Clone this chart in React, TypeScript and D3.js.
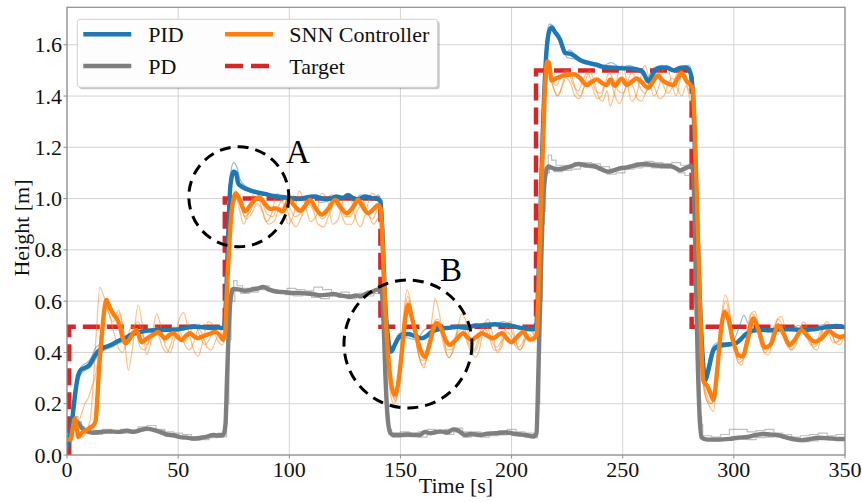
import React from "react";
import * as d3 from "d3";

type Pt = [number, number];

// Target height set-point (step profile)
const targetPts: Pt[] = [
  [0, 0], [1, 0], [1, 0.5], [71, 0.5], [71, 1.0], [141, 1.0], [141, 0.5],
  [211, 0.5], [211, 1.5], [281, 1.5], [281, 0.5], [350, 0.5],
];

// PID: mean trajectory
const pidMean: Pt[] = [
  [0,0.03],[1,0.06],[2.5,0.15],[4,0.26],[5,0.31],[6,0.33],[8,0.34],[10,0.35],[12,0.38],[14,0.405],[17,0.42],[20,0.43],[23,0.445],[26,0.455],[29,0.47],[32,0.478],[36,0.485],[40,0.487],[45,0.488],[50,0.49],[53,0.495],[57,0.5],[61,0.498],[65,0.495],[68,0.497],[70.5,0.495],
  [71.5,0.6],[72.5,0.85],[73.5,1.05],[75,1.105],[76,1.1],[77,1.06],[78.5,1.047],[81,1.036],[85,1.025],[89,1.018],[93,1.01],[97,1.006],[101,1.0],[104,0.998],[108,1.005],[111.5,1.008],[115,1.0],[118,0.998],[121,1.008],[124,1.003],[126.5,1.013],[129,1.0],[131,0.997],[134,1.008],[137,1.003],[140,0.997],[141,0.99],
  [142,0.85],[143,0.62],[144.5,0.45],[145.8,0.403],[147.5,0.43],[149,0.455],[151,0.47],[153.5,0.472],[156,0.465],[159.5,0.455],[162,0.465],[164,0.48],[168.5,0.493],[172,0.496],[176,0.5],[180,0.495],[183.5,0.505],[188,0.506],[192.5,0.51],[196,0.507],[199,0.505],[202,0.5],[204.5,0.495],[209.8,0.49],
  [211,0.5],[212.5,0.8],[214,1.25],[215.5,1.55],[217,1.655],[218,1.667],[219.5,1.65],[221.8,1.62],[223,1.59],[224,1.568],[226.3,1.565],[228,1.558],[230.8,1.54],[234,1.53],[238.3,1.522],[242,1.512],[245.8,1.51],[250,1.508],[253.3,1.508],[256,1.505],[259,1.495],[261.5,1.456],[263,1.475],[264.5,1.5],[267,1.51],[270,1.51],[273,1.5],[276,1.51],[278.8,1.51],[280.5,1.49],
  [281.5,1.42],[283,1.05],[284.5,0.65],[286,0.38],[287,0.29],[288.5,0.33],[290.8,0.41],[293,0.425],[295.3,0.43],[298,0.432],[301.3,0.438],[303.5,0.455],[305.5,0.472],[308.8,0.485],[312,0.488],[316,0.486],[320.7,0.49],[325,0.49],[330,0.488],[335.7,0.49],[339,0.495],[343,0.5],[346,0.503],[350,0.498],
];

// PID: individual runs
const pidRunA: Pt[] = [
  [0,0.03],[2,0.12],[3.5,0.24],[5,0.32],[7,0.35],[9,0.36],[11,0.38],[13,0.42],[15,0.43],[18,0.425],[21,0.44],[25,0.455],[28,0.47],[31,0.48],[35,0.49],[39,0.485],[43,0.49],[47,0.495],[51,0.49],[55,0.505],[59,0.51],[62,0.5],[66,0.505],[70,0.5],
  [71.3,0.65],[72.3,0.9],[73.3,1.08],[75,1.14],[76.5,1.12],[78,1.07],[82,1.04],[86,1.03],[90,1.015],[94,1.01],[98,1.005],[102,1.01],[106,0.995],[110,1.015],[114,0.985],[117,0.99],[120,1.01],[123,1.0],[126,1.02],[130,0.995],[134,1.01],[137,0.995],[140,1.015],[141,1.0],
  [142,0.8],[143.5,0.55],[145,0.42],[147,0.43],[149,0.47],[152,0.48],[155,0.47],[158,0.46],[161,0.49],[164,0.495],[168,0.5],[172,0.49],[176,0.505],[180,0.51],[184,0.5],[188,0.515],[192,0.505],[196,0.52],[200,0.51],[204,0.5],[208,0.505],[210.5,0.5],
  [212,0.75],[213.5,1.2],[215,1.55],[217,1.68],[218.5,1.675],[220,1.65],[222,1.61],[224,1.56],[226,1.58],[229,1.555],[233,1.54],[237,1.53],[241,1.52],[245,1.53],[249,1.51],[253,1.52],[257,1.5],[261,1.47],[264,1.51],[268,1.52],[272,1.505],[276,1.515],[280,1.52],
  [281.5,1.45],[283,1.1],[284.5,0.7],[286,0.4],[287.5,0.33],[289,0.38],[291,0.43],[294,0.44],[297,0.435],[300,0.45],[302.5,0.5],[304.5,0.545],[306.5,0.51],[309,0.49],[313,0.495],[317,0.48],[321,0.5],[325,0.49],[329,0.505],[333,0.485],[337,0.5],[341,0.51],[345,0.5],[350,0.505],
];
const pidRunB: Pt[] = [
  [0,0.03],[1.5,0.08],[3,0.18],[4.5,0.27],[6,0.31],[8,0.33],[10,0.34],[12,0.36],[14,0.39],[17,0.41],[20,0.42],[24,0.44],[28,0.46],[32,0.47],[36,0.48],[40,0.49],[44,0.485],[48,0.49],[52,0.5],[56,0.495],[60,0.5],[64,0.49],[68,0.495],[70.5,0.49],
  [71.8,0.7],[72.8,0.95],[74,1.08],[75.5,1.1],[77,1.06],[80,1.035],[84,1.025],[88,1.02],[92,1.005],[96,1.0],[100,0.995],[104,1.0],[108,1.01],[112,1.0],[116,0.995],[119,1.015],[122,1.0],[126,1.005],[129,0.99],[132,1.015],[136,1.0],[140,0.995],[141.3,0.97],
  [142.3,0.8],[143.5,0.58],[145,0.42],[146.5,0.4],[148.5,0.44],[151,0.46],[154,0.455],[157,0.45],[160,0.46],[163,0.47],[166,0.49],[170,0.495],[174,0.5],[178,0.495],[182,0.51],[186,0.505],[190,0.515],[194,0.5],[198,0.51],[202,0.5],[206,0.49],[210,0.485],
  [211.5,0.6],[213,1.0],[214.5,1.4],[216,1.62],[217.5,1.665],[219,1.655],[221,1.63],[223,1.6],[225,1.55],[228,1.545],[232,1.535],[236,1.52],[240,1.51],[244,1.52],[248,1.505],[252,1.51],[256,1.5],[260,1.48],[262,1.46],[265,1.5],[269,1.505],[273,1.495],[277,1.51],[280.5,1.5],
  [282,1.3],[283.5,0.9],[285,0.52],[286.5,0.31],[288,0.3],[290,0.37],[292,0.41],[295,0.42],[298,0.425],[301,0.43],[304,0.46],[307,0.48],[311,0.485],[315,0.49],[319,0.485],[323,0.495],[327,0.5],[331,0.49],[335,0.495],[339,0.49],[343,0.505],[347,0.5],[350,0.495],
];

// PD: mean trajectory
const pdMean: Pt[] = [
  [0,0.05],[1,0.07],[2.5,0.12],[3.6,0.135],[5,0.125],[7.3,0.1],[9,0.092],[11.8,0.087],[15,0.09],[19,0.092],[23,0.09],[27,0.095],[30,0.09],[33,0.097],[36,0.103],[38,0.1],[41.8,0.09],[44.8,0.08],[47.8,0.077],[51,0.07],[54,0.068],[57,0.064],[60,0.067],[63,0.072],[65.8,0.078],[68,0.076],[70.3,0.078],
  [71.3,0.12],[72,0.3],[72.8,0.5],[73.5,0.6],[74.8,0.648],[77.8,0.645],[80,0.64],[83,0.645],[86,0.65],[88.3,0.655],[91,0.645],[94.3,0.637],[98,0.635],[101,0.632],[104.8,0.632],[108,0.63],[111,0.627],[113.8,0.623],[117,0.625],[120,0.628],[123,0.622],[127.3,0.617],[130,0.622],[132,0.618],[134.8,0.63],[137,0.635],[139.5,0.645],[141.5,0.64],
  [142.5,0.5],[143.2,0.32],[144.2,0.15],[145.3,0.09],[146.8,0.078],[150,0.078],[153,0.08],[156,0.078],[158.8,0.078],[161,0.09],[163.3,0.085],[166,0.09],[168,0.092],[171,0.088],[173.8,0.1],[176,0.095],[179,0.078],[182,0.082],[185.8,0.078],[189,0.083],[193,0.085],[197.8,0.088],[201,0.083],[204,0.08],[206,0.078],[209.8,0.072],
  [211.2,0.085],[212,0.3],[213,0.65],[214,0.95],[215.2,1.09],[216.5,1.125],[218.8,1.118],[221,1.115],[223.3,1.118],[226.3,1.125],[230,1.135],[233,1.13],[236.8,1.127],[239,1.12],[241,1.112],[243.5,1.105],[246,1.11],[248.8,1.118],[252,1.122],[256.3,1.131],[260,1.135],[264,1.13],[268,1.128],[271.3,1.127],[273.5,1.12],[275.8,1.11],[278,1.118],[280.3,1.125],[281.5,1.115],
  [282.3,0.95],[283,0.65],[283.8,0.35],[284.6,0.15],[285.5,0.068],[288,0.06],[293,0.06],[298,0.063],[302,0.068],[306,0.07],[310,0.078],[313,0.082],[316,0.08],[320,0.077],[323,0.07],[327,0.062],[330.5,0.058],[334,0.062],[338,0.067],[342,0.066],[346,0.063],[350,0.063],
];

// PD: individual runs
const pdRunA: Pt[] = [
  [0,0.05],[1.5,0.08],[2.5,0.13],[3.5,0.15],[5,0.13],[6.5,0.11],[8,0.1],[12,0.095],[16,0.1],[20,0.095],[24,0.1],[28,0.098],[32,0.11],[36,0.115],[40,0.1],[44,0.09],[48,0.085],[52,0.08],[56,0.072],[60,0.075],[64,0.08],[68,0.085],[70.5,0.085],
  [71.5,0.25],[72.5,0.5],[73.5,0.65],[75,0.68],[76.5,0.66],[79,0.65],[83,0.655],[87,0.66],[91,0.645],[95,0.64],[99,0.65],[103,0.645],[107,0.64],[111,0.655],[115,0.645],[119,0.63],[123,0.635],[127,0.625],[131,0.63],[135,0.64],[139,0.65],[141.5,0.645],
  [142.5,0.45],[143.5,0.2],[144.5,0.1],[146,0.085],[150,0.09],[154,0.085],[158,0.09],[162,0.1],[166,0.095],[170,0.1],[174,0.105],[178,0.09],[182,0.09],[186,0.085],[190,0.09],[194,0.095],[198,0.1],[202,0.09],[206,0.085],[210,0.08],
  [211.5,0.2],[212.5,0.55],[213.5,0.9],[214.8,1.12],[216.5,1.17],[218,1.15],[220,1.13],[224,1.125],[228,1.14],[232,1.14],[236,1.135],[240,1.125],[244,1.115],[248,1.125],[252,1.13],[256,1.14],[260,1.145],[264,1.14],[268,1.135],[272,1.14],[276,1.13],[280,1.135],[281.5,1.12],
  [282.5,0.85],[283.5,0.45],[284.5,0.15],[285.5,0.075],[290,0.07],[294,0.08],[298,0.1],[302,0.1],[306,0.09],[310,0.095],[314,0.1],[318,0.085],[322,0.08],[326,0.07],[330,0.075],[334,0.08],[338,0.085],[342,0.075],[346,0.08],[350,0.078],
];
const pdRunB: Pt[] = [
  [0,0.05],[1.5,0.07],[3,0.11],[4.5,0.125],[6,0.1],[8,0.09],[12,0.08],[16,0.085],[20,0.09],[24,0.085],[28,0.09],[32,0.095],[36,0.1],[40,0.095],[44,0.075],[48,0.07],[52,0.062],[56,0.058],[60,0.06],[64,0.068],[68,0.07],[70.5,0.072],
  [71.8,0.2],[72.8,0.45],[73.8,0.6],[75.5,0.64],[78,0.63],[82,0.635],[86,0.645],[90,0.64],[94,0.63],[98,0.625],[102,0.62],[106,0.625],[110,0.615],[114,0.61],[118,0.62],[122,0.615],[126,0.61],[130,0.615],[134,0.62],[138,0.63],[141.5,0.63],
  [142.7,0.4],[143.7,0.16],[144.8,0.08],[146.5,0.07],[150,0.072],[154,0.075],[158,0.07],[162,0.08],[166,0.085],[170,0.08],[174,0.09],[178,0.07],[182,0.075],[186,0.07],[190,0.075],[194,0.078],[198,0.08],[202,0.075],[206,0.07],[210,0.068],
  [211.7,0.2],[212.7,0.6],[213.8,0.95],[215.3,1.1],[217,1.115],[219,1.105],[223,1.11],[227,1.115],[231,1.125],[235,1.12],[239,1.11],[243,1.095],[247,1.1],[251,1.115],[255,1.12],[259,1.125],[263,1.12],[267,1.118],[271,1.12],[275,1.1],[278,1.09],[281.5,1.105],
  [282.7,0.8],[283.7,0.4],[284.7,0.12],[286,0.058],[290,0.055],[294,0.057],[298,0.06],[302,0.062],[306,0.06],[310,0.068],[314,0.07],[318,0.072],[322,0.065],[326,0.055],[330,0.052],[334,0.055],[338,0.06],[342,0.058],[346,0.055],[350,0.056],
];

// SNN controller: mean trajectory
const snnMean: Pt[] = [
  [0,0.06],[1.5,0.06],[2.5,0.1],[3.6,0.143],[4.3,0.11],[5.1,0.07],[6.5,0.085],[8.8,0.097],[10.3,0.107],[11.8,0.115],[12.8,0.13],[13.5,0.2],[14.3,0.32],[15.5,0.45],[16.7,0.56],[17.8,0.605],[19,0.58],[20.8,0.55],[22.5,0.53],[23.5,0.51],[25,0.46],[26.3,0.435],[28,0.45],[29.3,0.468],[31.3,0.487],[33.6,0.44],[35.5,0.452],[37.3,0.462],[39,0.47],[41.1,0.48],[42.8,0.465],[44.1,0.455],[46,0.468],[47.8,0.475],[49.8,0.46],[51.6,0.448],[53.5,0.465],[55.3,0.475],[57.3,0.462],[59.1,0.455],[61,0.463],[62.8,0.468],[64.8,0.475],[66.6,0.48],[68.5,0.47],[70.3,0.45],[71.2,0.48],
  [72,0.65],[73,0.82],[74.2,0.96],[76,1.02],[78,0.99],[80,0.95],[83,0.98],[86.5,1.005],[89,0.98],[91.5,0.96],[94,0.962],[97,0.95],[100,0.995],[102.5,0.97],[105,0.952],[107,0.97],[109.3,0.995],[112,0.96],[114.6,0.938],[117.5,0.96],[120.6,0.995],[123,0.968],[125.8,0.943],[128.5,0.965],[131,0.995],[133,0.968],[135.5,0.943],[138,0.96],[140,0.975],[141.2,0.955],
  [142,0.82],[143,0.6],[144.2,0.42],[145.5,0.3],[146.5,0.25],[147.6,0.235],[149,0.28],[150.6,0.4],[152,0.52],[153.5,0.585],[155,0.54],[157.3,0.46],[159,0.41],[161,0.383],[163,0.43],[164.8,0.49],[166.3,0.515],[168.5,0.49],[170.5,0.445],[172.3,0.43],[175,0.45],[178.3,0.475],[180,0.46],[182,0.449],[184,0.46],[186.6,0.475],[189,0.465],[191.8,0.455],[193.5,0.465],[195.6,0.475],[197.8,0.455],[200,0.44],[202.5,0.46],[205.3,0.48],[207,0.46],[208.3,0.45],[210,0.455],[211.3,0.47],
  [212.3,0.7],[213.5,1.05],[214.8,1.38],[216,1.535],[216.8,1.53],[218,1.46],[220.3,1.47],[223.3,1.48],[226.3,1.484],[228,1.485],[230.8,1.47],[233.8,1.443],[236,1.455],[238.3,1.465],[240.5,1.452],[242.8,1.443],[244.5,1.465],[246.5,1.44],[249.5,1.468],[251.8,1.443],[254,1.455],[256.3,1.469],[258.5,1.455],[261.5,1.432],[263.5,1.455],[265.8,1.48],[268,1.46],[270,1.45],[272.8,1.443],[274.5,1.465],[276.5,1.489],[278.8,1.458],[280.5,1.443],[281.5,1.43],
  [282.5,1.25],[283.5,0.95],[284.5,0.65],[285.5,0.4],[286.3,0.29],[288,0.27],[289.5,0.24],[290.8,0.215],[292.5,0.33],[294,0.47],[295.8,0.558],[297.5,0.53],[299.5,0.45],[302,0.39],[304,0.385],[306,0.44],[308.8,0.533],[311,0.49],[314,0.42],[316.5,0.43],[320,0.505],[322.5,0.47],[325,0.43],[327.5,0.45],[330.5,0.487],[333,0.465],[336.5,0.442],[339.5,0.455],[342.8,0.484],[345,0.47],[347.7,0.46],[350,0.464],
];

// SNN controller: individual runs
const snnRunA: Pt[] = [
  [0,0.06],[2,0.07],[3.5,0.12],[5,0.08],[7,0.085],[9,0.1],[10.5,0.14],[11.8,0.28],[13.2,0.48],[14.8,0.655],[16.5,0.62],[18.5,0.56],[20.5,0.52],[22.5,0.54],[24,0.55],[26,0.44],[27.6,0.33],[29.5,0.42],[32,0.585],[34,0.5],[35.8,0.39],[38,0.45],[40.3,0.55],[42.3,0.5],[44.5,0.42],[46.5,0.4],[48.5,0.46],[50.5,0.53],[52.5,0.555],[54.5,0.49],[57,0.41],[59,0.385],[61,0.44],[63.5,0.52],[65.5,0.51],[67.5,0.45],[70,0.43],
  [71.3,0.52],[72.5,0.82],[74,0.99],[75.5,1.02],[77.5,0.96],[79.5,0.9],[82,0.96],[84.5,1.03],[87,0.98],[89.5,0.91],[92,0.94],[94.5,1.02],[97,0.99],[99.5,0.9],[102,0.94],[104.5,1.03],[107,0.98],[109.5,0.91],[112,0.93],[114.5,1.02],[117,1.0],[119.5,0.9],[122,0.92],[124.5,1.0],[127,1.02],[129.5,0.93],[132,0.89],[134.5,0.95],[137,1.02],[139.5,1.0],[141.2,0.95],
  [142,0.8],[143,0.55],[144.2,0.35],[145.5,0.24],[147,0.2],[148.5,0.24],[150,0.38],[151.5,0.55],[153,0.645],[154.5,0.6],[156.5,0.48],[158.5,0.38],[160.5,0.34],[162.5,0.42],[164.5,0.55],[165.6,0.61],[167.5,0.55],[169.5,0.45],[171.5,0.38],[173.5,0.4],[175.5,0.48],[177.5,0.55],[179.5,0.52],[181.5,0.44],[183.5,0.38],[185.5,0.41],[187.5,0.5],[189.5,0.53],[191.5,0.47],[193.5,0.4],[195.5,0.42],[197.5,0.5],[199.5,0.52],[201.5,0.46],[203.5,0.41],[205.5,0.43],[207.5,0.5],[209.5,0.49],[211,0.45],
  [212,0.75],[213.3,1.15],[214.5,1.42],[215.8,1.53],[217.3,1.5],[219,1.43],[221,1.4],[223,1.45],[225,1.5],[227,1.48],[229,1.42],[231,1.4],[233,1.45],[235,1.5],[237,1.46],[239,1.4],[241,1.38],[243,1.42],[244.3,1.36],[246,1.4],[248,1.49],[250,1.52],[252,1.45],[254,1.38],[256,1.4],[258,1.47],[260,1.52],[262,1.46],[264,1.4],[266,1.43],[268,1.5],[270,1.52],[272,1.45],[274,1.4],[276,1.47],[278,1.52],[280,1.49],[281.5,1.4],
  [282.5,1.2],[283.5,0.9],[284.5,0.6],[285.5,0.35],[287,0.24],[289,0.19],[290.8,0.17],[292.5,0.32],[294.3,0.52],[296,0.625],[297.8,0.58],[299.5,0.46],[301.5,0.37],[303.5,0.35],[305.5,0.44],[307.5,0.55],[309.5,0.56],[311.5,0.48],[313.5,0.4],[315.5,0.39],[317.5,0.45],[319.5,0.53],[321.5,0.54],[323.5,0.47],[325.5,0.41],[327.5,0.42],[329.5,0.49],[331.5,0.52],[333.5,0.48],[335.5,0.42],[337.5,0.41],[339.5,0.47],[341.5,0.52],[343.5,0.5],[345.5,0.44],[347.5,0.43],[350,0.47],
];
const snnRunB: Pt[] = [
  [0,0.06],[2,0.08],[3.6,0.14],[5,0.13],[6.5,0.16],[8,0.2],[9.5,0.22],[11,0.26],[12.5,0.3],[14,0.38],[15.5,0.5],[17,0.56],[18.5,0.58],[20,0.57],[21.5,0.54],[23.3,0.565],[25,0.5],[26.5,0.45],[28,0.46],[30,0.5],[32,0.52],[34,0.47],[36,0.43],[38,0.46],[40,0.5],[42,0.48],[44,0.44],[46,0.46],[48,0.5],[50,0.48],[52,0.44],[54,0.45],[56,0.49],[58,0.5],[60,0.46],[62,0.43],[64,0.45],[66,0.49],[68,0.5],[70.3,0.47],
  [71.5,0.55],[72.7,0.85],[74,0.98],[76,1.03],[78,0.98],[80,0.93],[82.5,0.95],[85,1.0],[87.5,0.99],[90,0.94],[92.5,0.93],[95,0.97],[97.5,1.0],[100,0.97],[102.5,0.93],[105,0.94],[107.5,0.99],[110,1.0],[112.5,0.95],[115,0.92],[117.5,0.95],[120,1.0],[122.5,0.98],[125,0.93],[127.5,0.93],[130,0.98],[132.5,1.0],[135,0.95],[137.5,0.92],[140,0.96],[141.3,0.94],
  [142.2,0.78],[143.2,0.56],[144.5,0.38],[146,0.26],[147.5,0.22],[149,0.27],[150.5,0.41],[152,0.56],[153.3,0.62],[155,0.55],[157,0.44],[159,0.37],[161,0.37],[163,0.45],[165,0.52],[167,0.53],[169,0.47],[171,0.41],[173,0.41],[175,0.47],[177,0.51],[179,0.49],[181,0.43],[183,0.41],[185,0.45],[187,0.5],[189,0.5],[191,0.45],[193,0.42],[195,0.44],[197,0.49],[199,0.5],[201,0.46],[203,0.42],[205,0.44],[207,0.49],[209,0.48],[211,0.46],
  [212.3,0.7],[213.6,1.1],[215,1.45],[216.3,1.54],[218,1.47],[220,1.44],[222,1.47],[224,1.5],[226,1.48],[228,1.44],[230,1.42],[232,1.46],[234,1.49],[236,1.46],[238,1.42],[240,1.41],[242,1.45],[244,1.49],[246,1.46],[248,1.42],[250,1.41],[252,1.45],[254,1.49],[256,1.47],[258,1.43],[260,1.41],[262,1.44],[264,1.49],[266,1.5],[268,1.45],[270,1.41],[272,1.43],[274,1.48],[276,1.5],[278,1.46],[280,1.42],[281.5,1.41],
  [282.6,1.2],[283.6,0.9],[284.6,0.58],[285.7,0.33],[287.5,0.22],[289.3,0.2],[291,0.21],[292.8,0.36],[294.6,0.53],[296.3,0.6],[298,0.55],[300,0.44],[302,0.36],[304,0.37],[306,0.46],[308,0.55],[310,0.53],[312,0.45],[314,0.4],[316,0.42],[318,0.49],[320,0.53],[322,0.5],[324,0.43],[326,0.41],[328,0.45],[330,0.5],[332,0.5],[334,0.45],[336,0.42],[338,0.44],[340,0.49],[342,0.5],[344,0.47],[346,0.44],[348,0.45],[350,0.48],
];
const snnRunC: Pt[] = [
  [0,0.06],[2,0.06],[3.5,0.1],[5,0.08],[7,0.07],[9,0.09],[11,0.1],[12.5,0.12],[13.5,0.2],[14.5,0.35],[15.8,0.5],[17.2,0.58],[19,0.55],[21,0.48],[23,0.42],[25,0.4],[27,0.45],[29,0.5],[31,0.48],[33,0.42],[35,0.41],[37,0.45],[39,0.49],[41,0.47],[43,0.42],[45,0.4],[47,0.44],[49,0.49],[51,0.48],[53,0.43],[55,0.41],[57,0.44],[59,0.49],[61,0.47],[63,0.42],[65,0.41],[67,0.45],[69,0.47],[70.5,0.44],
  [71.8,0.5],[73,0.8],[74.5,0.96],[76.5,1.0],[78.5,0.96],[80.5,0.92],[83,0.94],[85.5,0.98],[88,0.95],[90.5,0.9],[93,0.91],[95.5,0.96],[98,0.97],[100.5,0.92],[103,0.89],[105.5,0.93],[108,0.98],[110.5,0.96],[113,0.9],[115.5,0.89],[118,0.94],[120.5,0.98],[123,0.95],[125.5,0.9],[128,0.9],[130.5,0.95],[133,0.98],[135.5,0.94],[138,0.9],[140.5,0.93],[141.5,0.9],
  [142.4,0.72],[143.5,0.5],[145,0.32],[146.5,0.23],[148,0.21],[149.5,0.3],[151,0.46],[152.5,0.58],[154,0.6],[156,0.5],[158,0.4],[160,0.35],[162,0.38],[164,0.47],[166,0.52],[168,0.48],[170,0.41],[172,0.38],[174,0.42],[176,0.48],[178,0.49],[180,0.44],[182,0.4],[184,0.41],[186,0.46],[188,0.49],[190,0.46],[192,0.41],[194,0.41],[196,0.45],[198,0.48],[200,0.46],[202,0.42],[204,0.41],[206,0.45],[208,0.47],[210.5,0.44],
  [212.5,0.65],[213.8,1.05],[215.2,1.4],[216.6,1.5],[218.5,1.44],[220.5,1.4],[222.5,1.43],[224.5,1.47],[226.5,1.45],[228.5,1.4],[230.5,1.39],[232.5,1.43],[234.5,1.46],[236.5,1.43],[238.5,1.39],[240.5,1.4],[242.5,1.45],[244.5,1.45],[246.5,1.4],[248.5,1.37],[250.5,1.41],[252.5,1.46],[254.5,1.44],[256.5,1.39],[258.5,1.38],[260.5,1.42],[262.5,1.46],[264.5,1.43],[266.5,1.39],[268.5,1.4],[270.5,1.45],[272.5,1.47],[274.5,1.43],[276.5,1.4],[278.5,1.44],[280.5,1.38],[281.5,1.36],
  [282.8,1.15],[283.8,0.85],[284.8,0.55],[286,0.32],[288,0.23],[290,0.2],[291.5,0.24],[293.2,0.4],[295,0.54],[296.8,0.57],[298.5,0.5],[300.5,0.41],[302.5,0.37],[304.5,0.41],[306.5,0.5],[308.5,0.53],[310.5,0.49],[312.5,0.42],[314.5,0.41],[316.5,0.45],[318.5,0.51],[320.5,0.51],[322.5,0.46],[324.5,0.42],[326.5,0.43],[328.5,0.48],[330.5,0.5],[332.5,0.47],[334.5,0.43],[336.5,0.43],[338.5,0.47],[340.5,0.5],[342.5,0.48],[344.5,0.44],[346.5,0.44],[348.5,0.47],[350,0.47],
];

const xTicks = [0, 50, 100, 150, 200, 250, 300, 350];
const yTicks = [0.0, 0.2, 0.4, 0.6, 0.8, 1.0, 1.2, 1.4, 1.6];

// Highlighted regions: centre in data units, radius in pixels
const callouts = [
  { label: "A", t: 77.3, h: 1.007, r: 50, lt: 98.5, lh: 1.137 },
  { label: "B", t: 153.4, h: 0.433, r: 64, lt: 167.8, lh: 0.68 },
];

const legendItems = [
  { name: "PID", color: "#1f77b4", dash: "" },
  { name: "PD", color: "#7f7f7f", dash: "" },
  { name: "SNN Controller", color: "#ff7f0e", dash: "" },
  { name: "Target", color: "#d62728", dash: "18,8" },
];

const W = 862;
const H = 502;
const FONT = "'Liberation Serif', 'Times New Roman', serif";

export default function App() {
  const x = d3.scaleLinear().domain([0, 350]).range([67, 845]);
  const y = d3.scaleLinear().domain([0, 1.746]).range([455, 7.3]);
  const [x0, x1] = x.range();
  const [y0, y1] = y.range();

  const smooth = d3.line<Pt>().x((d) => x(d[0])).y((d) => y(d[1])).curve(d3.curveMonotoneX);
  const stepped = d3.line<Pt>().x((d) => x(d[0])).y((d) => y(d[1])).curve(d3.curveStepAfter);
  const straight = d3.line<Pt>().x((d) => x(d[0])).y((d) => y(d[1]));

  const thin = (pts: Pt[], color: string, step = false) => (
    <path d={(step ? stepped : smooth)(pts) || ""} fill="none" stroke={color} strokeWidth={1.2} strokeOpacity={0.5} strokeLinejoin="round" />
  );
  const thick = (pts: Pt[], color: string) => (
    <path d={smooth(pts) || ""} fill="none" stroke={color} strokeWidth={4.4} strokeLinejoin="round" strokeLinecap="round" />
  );

  return (
    <svg width={W} height={H} style={{ position: "absolute", left: 0, top: 0, background: "#fff" }} fontFamily={FONT}>
      <defs>
        <clipPath id="plotArea">
          <rect x={x0} y={y1} width={x1 - x0} height={y0 - y1} />
        </clipPath>
      </defs>

      {/* grid */}
      <g stroke="#d3d3d3" strokeWidth={1}>
        {xTicks.map((t) => (
          <line key={"gx" + t} x1={x(t)} x2={x(t)} y1={y1} y2={y0} />
        ))}
        {yTicks.map((t) => (
          <line key={"gy" + t} x1={x0} x2={x1} y1={y(t)} y2={y(t)} />
        ))}
      </g>

      <g clipPath="url(#plotArea)">
        {/* set-point */}
        <path d={straight(targetPts) || ""} fill="none" stroke="#d62728" strokeWidth={4.5} strokeDasharray="17,7" />

        {/* individual runs */}
        {thin(pdRunA, "#7f7f7f", true)}
        {thin(pdRunB, "#7f7f7f", true)}
        {thin(pidRunA, "#1f77b4")}
        {thin(pidRunB, "#1f77b4")}
        {thin(snnRunA, "#ff7f0e")}
        {thin(snnRunB, "#ff7f0e")}
        {thin(snnRunC, "#ff7f0e")}

        {/* means */}
        {thick(pdMean, "#7f7f7f")}
        {thick(pidMean, "#1f77b4")}
        {thick(snnMean, "#ff7f0e")}
      </g>

      {/* frame */}
      <rect x={x0} y={y1} width={x1 - x0} height={y0 - y1} fill="none" stroke="#8c8c8c" strokeWidth={1.2} />

      {/* x axis */}
      {xTicks.map((t) => (
        <g key={"xt" + t}>
          <line x1={x(t)} x2={x(t)} y1={y0} y2={y0 + 3.5} stroke="#8c8c8c" strokeWidth={1} />
          <text x={x(t)} y={477} fontSize={22} textAnchor="middle" fill="#111">
            {t}
          </text>
        </g>
      ))}
      <text x={(x0 + x1) / 2} y={493} fontSize={22} textAnchor="middle" fill="#111">
        Time [s]
      </text>

      {/* y axis */}
      {yTicks.map((t) => (
        <g key={"yt" + t}>
          <line x1={x0 - 3.5} x2={x0} y1={y(t)} y2={y(t)} stroke="#8c8c8c" strokeWidth={1} />
          <text x={62} y={y(t) + 7.5} fontSize={22} textAnchor="end" fill="#111">
            {t.toFixed(1)}
          </text>
        </g>
      ))}
      <text transform={`translate(28.5, 228) rotate(-90)`} fontSize={22} textAnchor="middle" fill="#111">
        Height [m]
      </text>

      {/* callouts */}
      {callouts.map((c) => (
        <g key={c.label}>
          <circle cx={x(c.t)} cy={y(c.h)} r={c.r} fill="none" stroke="#000" strokeWidth={3} strokeDasharray="11,7" />
          <text x={x(c.lt)} y={y(c.lh)} fontSize={33} fill="#000">
            {c.label}
          </text>
        </g>
      ))}

      {/* legend */}
      <g>
        <rect x={79.3} y={21.3} width={360.4} height={68} rx={3} fill="#000" fillOpacity={0.22} />
        <rect x={77.3} y={19.3} width={360.4} height={68} rx={3} fill="#fff" fillOpacity={0.96} stroke="#cfcfcf" strokeWidth={1} />
        {legendItems.map((it, i) => {
          const col = Math.floor(i / 2);
          const row = i % 2;
          const hx = col === 0 ? 83.3 : 225;
          const tx = col === 0 ? 148.3 : 289.3;
          const ly = row === 0 ? 34.3 : 66;
          return (
            <g key={it.name}>
              <line x1={hx} x2={hx + 48} y1={ly} y2={ly} stroke={it.color} strokeWidth={it.dash ? 4.5 : 4.4} strokeDasharray={it.dash || undefined} />
              <text x={tx} y={ly + 8} fontSize={22} fill="#111">
                {it.name}
              </text>
            </g>
          );
        })}
      </g>
    </svg>
  );
}
